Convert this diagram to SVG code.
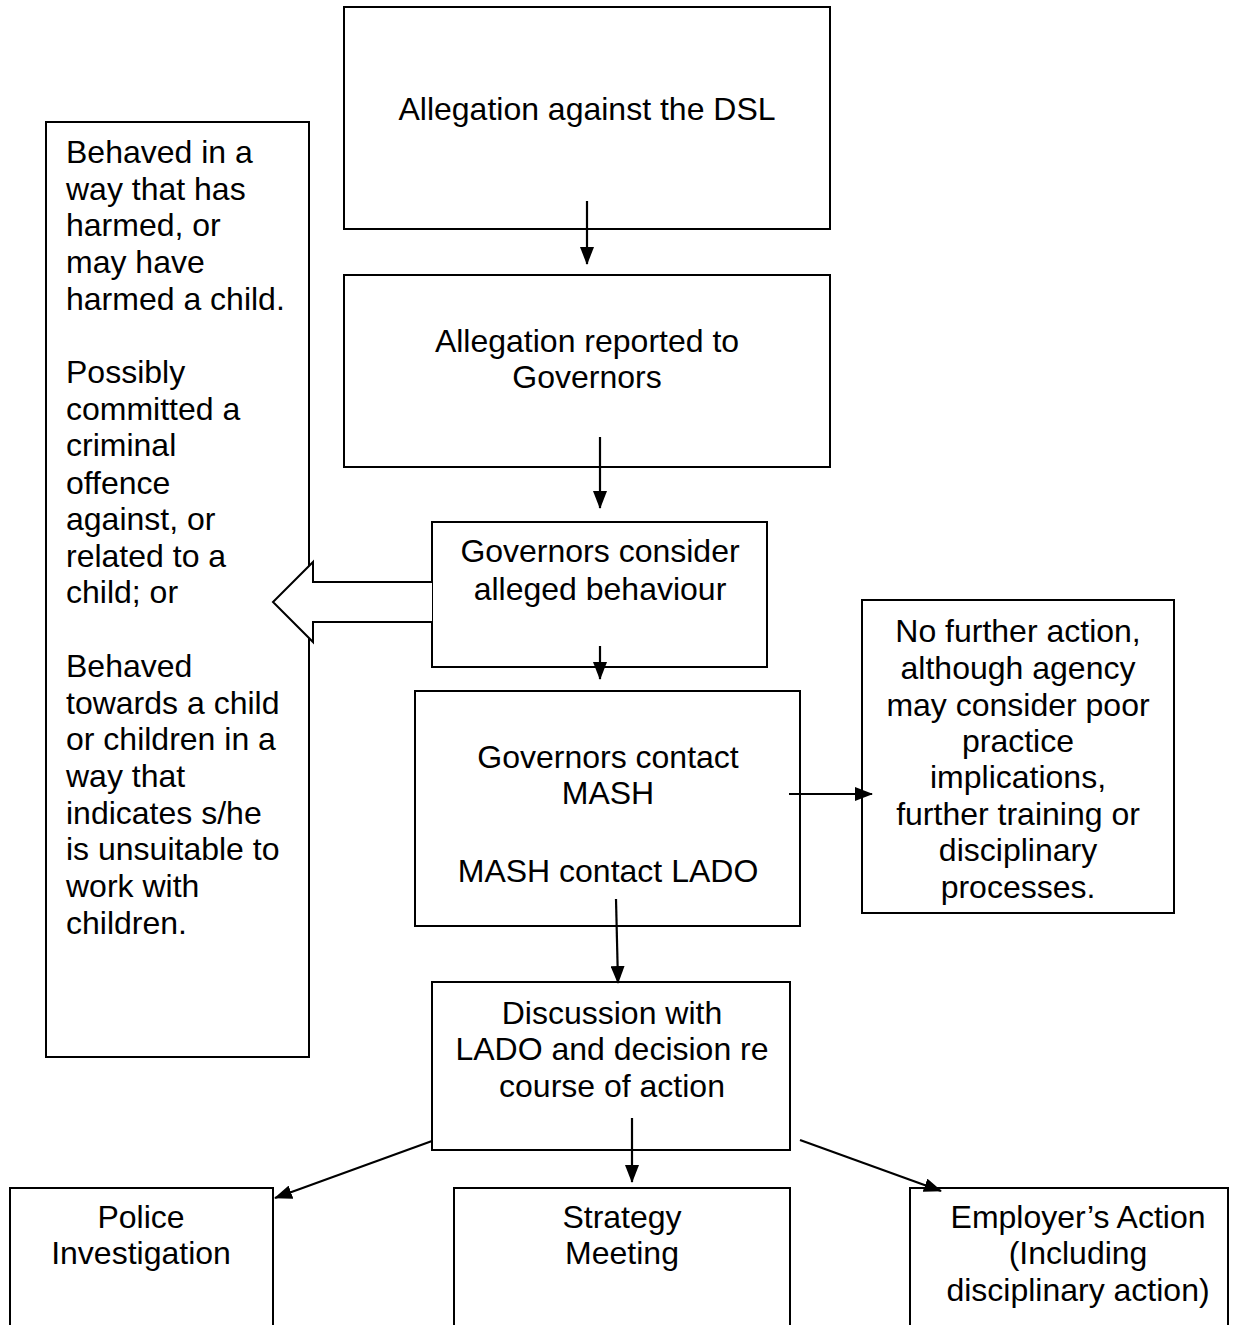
<svg xmlns="http://www.w3.org/2000/svg" width="1254" height="1325" viewBox="0 0 1254 1325">
<style>
.box{fill:#fff;stroke:#000;stroke-width:2}
.t{font-family:"Liberation Sans",Arial,sans-serif;font-size:32px;fill:#000}
.c{text-anchor:middle}
.ln{stroke:#000;stroke-width:2.2;fill:none}
</style>
<defs>
<marker id="ah" markerUnits="userSpaceOnUse" markerWidth="18" markerHeight="14" refX="17" refY="7" orient="auto">
<path d="M0,0 L18,7 L0,14 Z" fill="#000"/>
</marker>
</defs>
<rect width="1254" height="1325" fill="#fff"/>

<g id="n1"><rect class="box" x="344" y="7" width="486" height="222"/>
<text class="t c" x="587" y="120">Allegation against the DSL</text></g>

<g id="n2"><rect class="box" x="344" y="275" width="486" height="192"/>
<text class="t c" x="587" y="352">Allegation reported to</text>
<text class="t c" x="587" y="388">Governors</text></g>

<g id="n3"><rect class="box" x="432" y="522" width="335" height="145"/>
<text class="t c" x="600" y="562">Governors consider</text>
<text class="t c" x="600" y="600">alleged behaviour</text></g>

<g id="nLeft"><rect class="box" x="46" y="122" width="263" height="935"/>
<g class="t">
<text x="66" y="163">Behaved in a</text>
<text x="66" y="200">way that has</text>
<text x="66" y="236">harmed, or</text>
<text x="66" y="273">may have</text>
<text x="66" y="310">harmed a child.</text>
<text x="66" y="383">Possibly</text>
<text x="66" y="420">committed a</text>
<text x="66" y="456">criminal</text>
<text x="66" y="494">offence</text>
<text x="66" y="530">against, or</text>
<text x="66" y="567">related to a</text>
<text x="66" y="603">child; or</text>
<text x="66" y="677">Behaved</text>
<text x="66" y="714">towards a child</text>
<text x="66" y="750">or children in a</text>
<text x="66" y="787">way that</text>
<text x="66" y="824">indicates s/he</text>
<text x="66" y="860">is unsuitable to</text>
<text x="66" y="897">work with</text>
<text x="66" y="934">children.</text>
</g></g>

<g id="n4"><rect class="box" x="415" y="691" width="385" height="235"/>
<text class="t c" x="608" y="768">Governors contact</text>
<text class="t c" x="608" y="804">MASH</text>
<text class="t c" x="608" y="882">MASH contact LADO</text></g>

<g id="nRight"><rect class="box" x="862" y="600" width="312" height="313"/>
<g class="t c">
<text x="1018" y="642">No further action,</text>
<text x="1018" y="679">although agency</text>
<text x="1018" y="716">may consider poor</text>
<text x="1018" y="752">practice</text>
<text x="1018" y="788">implications,</text>
<text x="1018" y="825">further training or</text>
<text x="1018" y="861">disciplinary</text>
<text x="1018" y="898">processes.</text>
</g></g>

<g id="n5"><rect class="box" x="432" y="982" width="358" height="168"/>
<text class="t c" x="612" y="1024">Discussion with</text>
<text class="t c" x="612" y="1060">LADO and decision re</text>
<text class="t c" x="612" y="1097">course of action</text></g>

<g id="n6"><rect class="box" x="10" y="1188" width="263" height="150"/>
<text class="t c" x="141" y="1228">Police</text>
<text class="t c" x="141" y="1264">Investigation</text></g>

<g id="n7"><rect class="box" x="454" y="1188" width="336" height="150"/>
<text class="t c" x="622" y="1228">Strategy</text>
<text class="t c" x="622" y="1264">Meeting</text></g>

<g id="n8"><rect class="box" x="910" y="1188" width="318" height="150"/>
<text class="t c" x="1078" y="1228">Employer’s Action</text>
<text class="t c" x="1078" y="1264">(Including</text>
<text class="t c" x="1078" y="1301">disciplinary action)</text></g>

<g id="connectors">
<line class="ln" x1="587" y1="201" x2="587" y2="264" marker-end="url(#ah)"/>
<line class="ln" x1="600" y1="437" x2="600" y2="508" marker-end="url(#ah)"/>
<line class="ln" x1="600" y1="646" x2="600" y2="679" marker-end="url(#ah)"/>
<path d="M432,582 L313,582 L313,562 L273,602 L313,642 L313,622 L432,622" fill="#fff" stroke="#000" stroke-width="2"/>
<line class="ln" x1="789" y1="794" x2="872" y2="794" marker-end="url(#ah)"/>
<line class="ln" x1="616" y1="899" x2="618" y2="983" marker-end="url(#ah)"/>
<line class="ln" x1="632" y1="1118" x2="632" y2="1182" marker-end="url(#ah)"/>
<line class="ln" x1="432" y1="1141" x2="275" y2="1198" marker-end="url(#ah)"/>
<line class="ln" x1="800" y1="1140" x2="941" y2="1191" marker-end="url(#ah)"/>
</g>
</svg>
